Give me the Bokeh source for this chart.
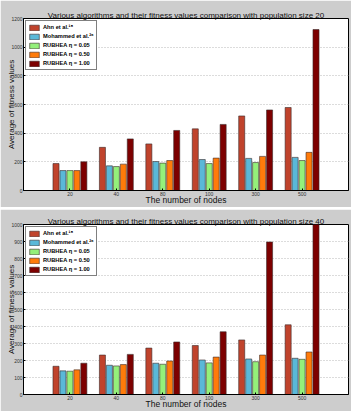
from bokeh.plotting import figure
from bokeh.models import Range1d, FixedTicker, Legend, LegendItem, ColumnDataSource
from bokeh.layouts import column
from bokeh.embed import file_html
from bokeh.resources import INLINE

nodes = ["20", "40", "80", "100", "300", "500"]
series = ["Ahn et al.\u00b9\u2078", "Mohammed et al.\u00b2\u2076",
          "RUBHEA \u03b7 = 0.05", "RUBHEA \u03b7 = 0.50", "RUBHEA \u03b7 = 1.00"]
colors = ["#c0432c", "#5ab8d8", "#94f07a", "#ff7b0a", "#7d0000"]

# population size 20
ahn_20 = [188, 301, 325, 430, 520, 579]
moh_20 = [139, 172, 202, 216, 224, 231]
r005_20 = [139, 167, 191, 188, 195, 209]
r050_20 = [139, 184, 209, 226, 238, 266]
r100_20 = [200, 360, 419, 461, 562, 1123]

# population size 40
ahn_40 = [166, 232, 273, 288, 321, 410]
moh_40 = [139, 172, 184, 203, 209, 213]
r005_40 = [137, 168, 178, 186, 193, 207]
r050_40 = [145, 176, 197, 220, 232, 250]
r100_40 = [184, 236, 309, 369, 897, 1000]

yticks_20 = [0, 200, 400, 600, 800, 1000, 1200]
yticks_40 = [0, 100, 200, 300, 400, 500, 600, 700, 800, 900, 1000]

FONT = "Liberation Sans"


def make(title, values, ymax, yticks, height, top, bottom):
    p = figure(width=351, height=height, output_backend="svg", toolbar_location=None,
               x_range=Range1d(-1, 6), y_range=Range1d(0, ymax),
               min_border_left=23, min_border_right=3,
               min_border_top=top, min_border_bottom=bottom,
               background_fill_color="white", border_fill_color="#cdcdcd",
               title=title)
    p.title.text_font = FONT
    p.title.text_font_size = "8px"
    p.title.text_font_style = "normal"
    p.title.text_color = "#111111"
    p.title.align = "center"
    p.title.standoff = -2
    p.title.offset = 0
    p.outline_line_color = "black"
    p.outline_line_width = 1

    items = []
    for k, (name, vals, color) in enumerate(zip(series, values, colors)):
        src = ColumnDataSource(dict(x=[i + (k - 2) * 0.15 for i in range(len(nodes))], top=vals))
        r = p.vbar(x="x", top="top", width=0.13, source=src, fill_color=color,
                   line_color="#3a2a2a", line_width=0.6)
        items.append(LegendItem(label=name, renderers=[r]))

    legend = Legend(items=items, location="top_left")
    legend.label_text_font = FONT
    legend.label_text_font_size = "5.7px"
    legend.label_text_font_style = "bold"
    legend.label_text_color = "black"
    legend.glyph_width = 12
    legend.glyph_height = 7
    legend.label_height = 8
    legend.label_standoff = 3
    legend.spacing = 1
    legend.padding = 2
    legend.margin = 2
    legend.border_line_color = "black"
    legend.border_line_width = 1
    legend.background_fill_alpha = 1
    p.add_layout(legend)

    p.xgrid.grid_line_color = None
    p.ygrid.grid_line_color = "#b8b8b8"
    p.ygrid.grid_line_dash = "1 2"
    p.ygrid.ticker = FixedTicker(ticks=yticks)

    p.xaxis.ticker = FixedTicker(ticks=list(range(len(nodes))))
    p.xaxis.major_label_overrides = {i: n for i, n in enumerate(nodes)}
    p.yaxis.ticker = FixedTicker(ticks=yticks)
    for ax in (p.xaxis[0], p.yaxis[0]):
        ax.axis_line_color = "black"
        ax.major_tick_in = 2
        ax.major_tick_out = 0
        ax.minor_tick_line_color = None
        ax.major_label_text_font = FONT
        ax.major_label_text_font_size = "5px"
        ax.major_label_text_color = "#333333"
        ax.major_label_standoff = 1
        ax.axis_label_text_font = FONT
        ax.axis_label_text_font_style = "normal"
        ax.axis_label_text_color = "#111111"
    p.yaxis.axis_label_text_font_size = "8px"
    p.xaxis.axis_label_text_font_size = "8.5px"
    p.yaxis.axis_label_standoff = -8
    p.xaxis.axis_label_standoff = -4
    p.xaxis.axis_label = "The number of nodes"
    p.yaxis.axis_label = "Average of fitness values"
    return p


p1 = make("Various algorithms and their fitness values comparison with population size 20",
          [ahn_20, moh_20, r005_20, r050_20, r100_20], 1200, yticks_20, 207, 18, 17)
p2 = make("Various algorithms and their fitness values comparison with population size 40",
          [ahn_40, moh_40, r005_40, r050_40, r100_40], 1000, yticks_40, 202, 15, 15)

layout = column(p1, p2, spacing=2)
open("out.html", "w").write(file_html(layout, INLINE))
